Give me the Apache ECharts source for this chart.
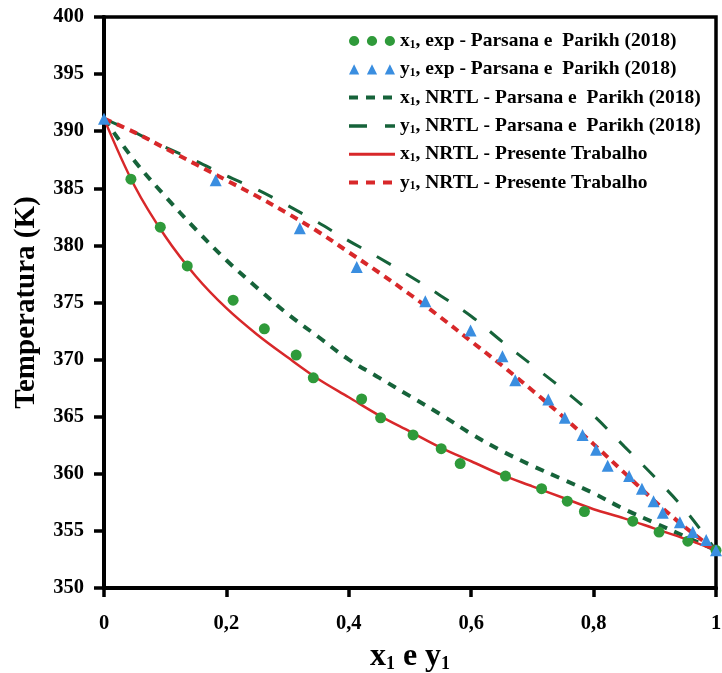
<!DOCTYPE html>
<html>
<head>
<meta charset="utf-8">
<script src="https://cdn.jsdelivr.net/npm/echarts@6/dist/echarts.min.js"></script>
<style>html,body{margin:0;padding:0;background:#fff}#c{width:722px;height:673px}</style>
</head>
<body>
<div id="c"></div>
<script>
// x1 experimental (Parsana e Parikh 2018)
const x1ExpX = [0.044, 0.092, 0.136, 0.211, 0.262, 0.314, 0.342, 0.421, 0.452, 0.505, 0.551, 0.582, 0.656, 0.715, 0.757, 0.785, 0.864, 0.907, 0.954, 1.0];
const x1ExpT = [385.8, 381.6, 378.2, 375.2, 372.7, 370.4, 368.4, 366.55, 364.9, 363.4, 362.2, 360.9, 359.8, 358.7, 357.6, 356.7, 355.85, 354.9, 354.1, 353.3];
// y1 experimental (Parsana e Parikh 2018)
const y1ExpX = [0.0, 0.1825, 0.32, 0.413, 0.525, 0.599, 0.651, 0.672, 0.726, 0.753, 0.782, 0.804, 0.823, 0.858, 0.879, 0.898, 0.913, 0.941, 0.962, 0.984, 1.0];
const y1ExpT = [391.1, 385.7, 381.5, 378.1, 375.1, 372.55, 370.3, 368.2, 366.5, 364.9, 363.4, 362.1, 360.7, 359.8, 358.7, 357.6, 356.6, 355.75, 354.9, 354.2, 353.3];
// model curves sampled at a common composition grid
const gridX = [0, 0.05, 0.1, 0.15, 0.2, 0.25, 0.3, 0.35, 0.4, 0.45, 0.5, 0.55, 0.6, 0.65, 0.7, 0.75, 0.8, 0.85, 0.9, 0.95, 1.0];
const x1NrtlParsana = [391.1, 387.4, 384.3, 381.4, 378.7, 376.3, 374.0, 372.0, 370.0, 368.4, 366.8, 365.2, 363.5, 362.0, 360.7, 359.5, 358.3, 356.9, 355.7, 354.5, 353.3];
const y1NrtlParsana = [391.1, 389.9, 388.6, 387.4, 386.1, 384.9, 383.5, 382.0, 380.4, 378.9, 377.3, 375.6, 373.8, 371.6, 369.5, 367.4, 365.1, 362.4, 359.7, 356.8, 353.3];
const x1NrtlPresente = [391.1, 385.2, 380.8, 377.3, 374.5, 372.2, 370.2, 368.3, 366.7, 365.1, 363.7, 362.3, 361.1, 359.9, 358.9, 357.9, 356.9, 356.1, 355.2, 354.3, 353.3];
const y1NrtlPresente = [391.1, 389.9, 388.5, 387.1, 385.7, 384.3, 382.8, 381.2, 379.4, 377.6, 375.7, 373.7, 371.6, 369.5, 367.3, 365.0, 362.6, 360.1, 357.6, 355.3, 353.3];
const xTicks = ['0', '0,2', '0,4', '0,6', '0,8', '1'];
const names = [
  'x1, exp - Parsana e  Parikh (2018)',
  'y1, exp - Parsana e  Parikh (2018)',
  'x1, NRTL - Parsana e  Parikh (2018)',
  'y1, NRTL - Parsana e  Parikh (2018)',
  'x1, NRTL - Presente Trabalho',
  'y1, NRTL - Presente Trabalho'
];

const zip = (xs, ys) => xs.map((x, i) => [x, ys[i]]);
const F = 'Liberation Serif';
const DG = '#16633a', RED = '#d8282a', GC = '#2f9a3a', BL = '#3a8ee0';
const circ = 'path://M0,5 A5,5 0 1,0 10,5 A5,5 0 1,0 0,5 Z M17.5,5 A5,5 0 1,0 27.5,5 A5,5 0 1,0 17.5,5 Z M35,5 A5,5 0 1,0 45,5 A5,5 0 1,0 35,5 Z';
const tri = 'path://M5,0 L10,10 L0,10 Z M22.5,0 L27.5,10 L17.5,10 Z M40,0 L45,10 L35,10 Z';
const noSym = { opacity: 0 };

const chart = echarts.init(document.getElementById('c'));
chart.setOption({
  animation: false,
  backgroundColor: '#fff',
  grid: { left: 104, right: 6, top: 17, bottom: 85, show: true, borderColor: '#000', borderWidth: 3.5,
    containLabel: false, outerBoundsMode: 'none' },
  legend: {
    orient: 'vertical', left: 342, top: 26, itemWidth: 46, itemHeight: 11, itemGap: 8.3,
    data: [
      { name: names[0], icon: circ },
      { name: names[1], icon: tri },
      { name: names[2], itemStyle: noSym, lineStyle: { width: 4, type: [9, 8] } },
      { name: names[3], itemStyle: noSym, lineStyle: { width: 3.5, type: [18, 18] } },
      { name: names[4], itemStyle: noSym, lineStyle: { width: 3 } },
      { name: names[5], itemStyle: noSym, lineStyle: { width: 4, type: [9, 8] } }
    ],
    formatter: n => '{v|' + n.charAt(0) + '}{s|1}{v|' + n.slice(2) + '}',
    textStyle: {
      rich: {
        v: { fontFamily: F, fontWeight: 'bold', fontSize: 19.5, color: '#000', lineHeight: 22 },
        s: { fontFamily: F, fontWeight: 'bold', fontSize: 11.5, color: '#000', lineHeight: 22, padding: [8, 0, 0, 0] }
      }
    }
  },
  xAxis: {
    type: 'value', min: 0, max: 1, interval: 0.2,
    axisLine: { lineStyle: { color: '#000', width: 4 } },
    axisTick: { show: true, length: 9, lineStyle: { color: '#000', width: 3.5 } },
    splitLine: { show: false },
    axisLabel: { margin: 25, fontFamily: F, fontWeight: 'bold', fontSize: 20.5, color: '#000',
      formatter: v => xTicks[Math.round(v / 0.2)] },
    name: '{v|x}{s|1}{v| e y}{s|1}', nameLocation: 'middle', nameGap: 51,
    nameTextStyle: { rich: {
      v: { fontFamily: F, fontWeight: 'bold', fontSize: 32, color: '#000', lineHeight: 36 },
      s: { fontFamily: F, fontWeight: 'bold', fontSize: 18, color: '#000', lineHeight: 36, padding: [14, 0, 0, 0] }
    } }
  },
  yAxis: {
    type: 'value', min: 350, max: 400, interval: 5,
    axisLine: { lineStyle: { color: '#000', width: 4 } },
    axisTick: { show: true, length: 10, lineStyle: { color: '#000', width: 3.5 } },
    splitLine: { show: false },
    axisLabel: { margin: 20, fontFamily: F, fontWeight: 'bold', fontSize: 20.5, color: '#000' },
    name: 'Temperatura (K)', nameLocation: 'middle', nameGap: 63,
    nameTextStyle: { fontFamily: F, fontWeight: 'bold', fontSize: 29, color: '#000' }
  },
  series: [
    { name: names[2], type: 'line', smooth: 0.35, symbol: 'none', data: zip(gridX, x1NrtlParsana),
      lineStyle: { color: DG, width: 4, type: [9, 8] }, itemStyle: { color: DG }, z: 2 },
    { name: names[3], type: 'line', smooth: 0.35, symbol: 'none', data: zip(gridX, y1NrtlParsana),
      lineStyle: { color: DG, width: 3, type: [16, 18] }, itemStyle: { color: DG }, z: 2 },
    { name: names[4], type: 'line', smooth: 0.35, symbol: 'none', data: zip(gridX, x1NrtlPresente),
      lineStyle: { color: RED, width: 2.5 }, itemStyle: { color: RED }, z: 3 },
    { name: names[5], type: 'line', smooth: 0.35, symbol: 'none', data: zip(gridX, y1NrtlPresente),
      lineStyle: { color: RED, width: 4, type: [8, 6] }, itemStyle: { color: RED }, z: 3 },
    { name: names[0], type: 'scatter', symbol: 'circle', symbolSize: 11, data: zip(x1ExpX, x1ExpT),
      itemStyle: { color: GC, opacity: 1 }, z: 4 },
    { name: names[1], type: 'scatter', symbol: 'triangle', symbolSize: 12, data: zip(y1ExpX, y1ExpT),
      itemStyle: { color: BL, opacity: 1 }, z: 4 }
  ]
});
</script>
</body>
</html>
